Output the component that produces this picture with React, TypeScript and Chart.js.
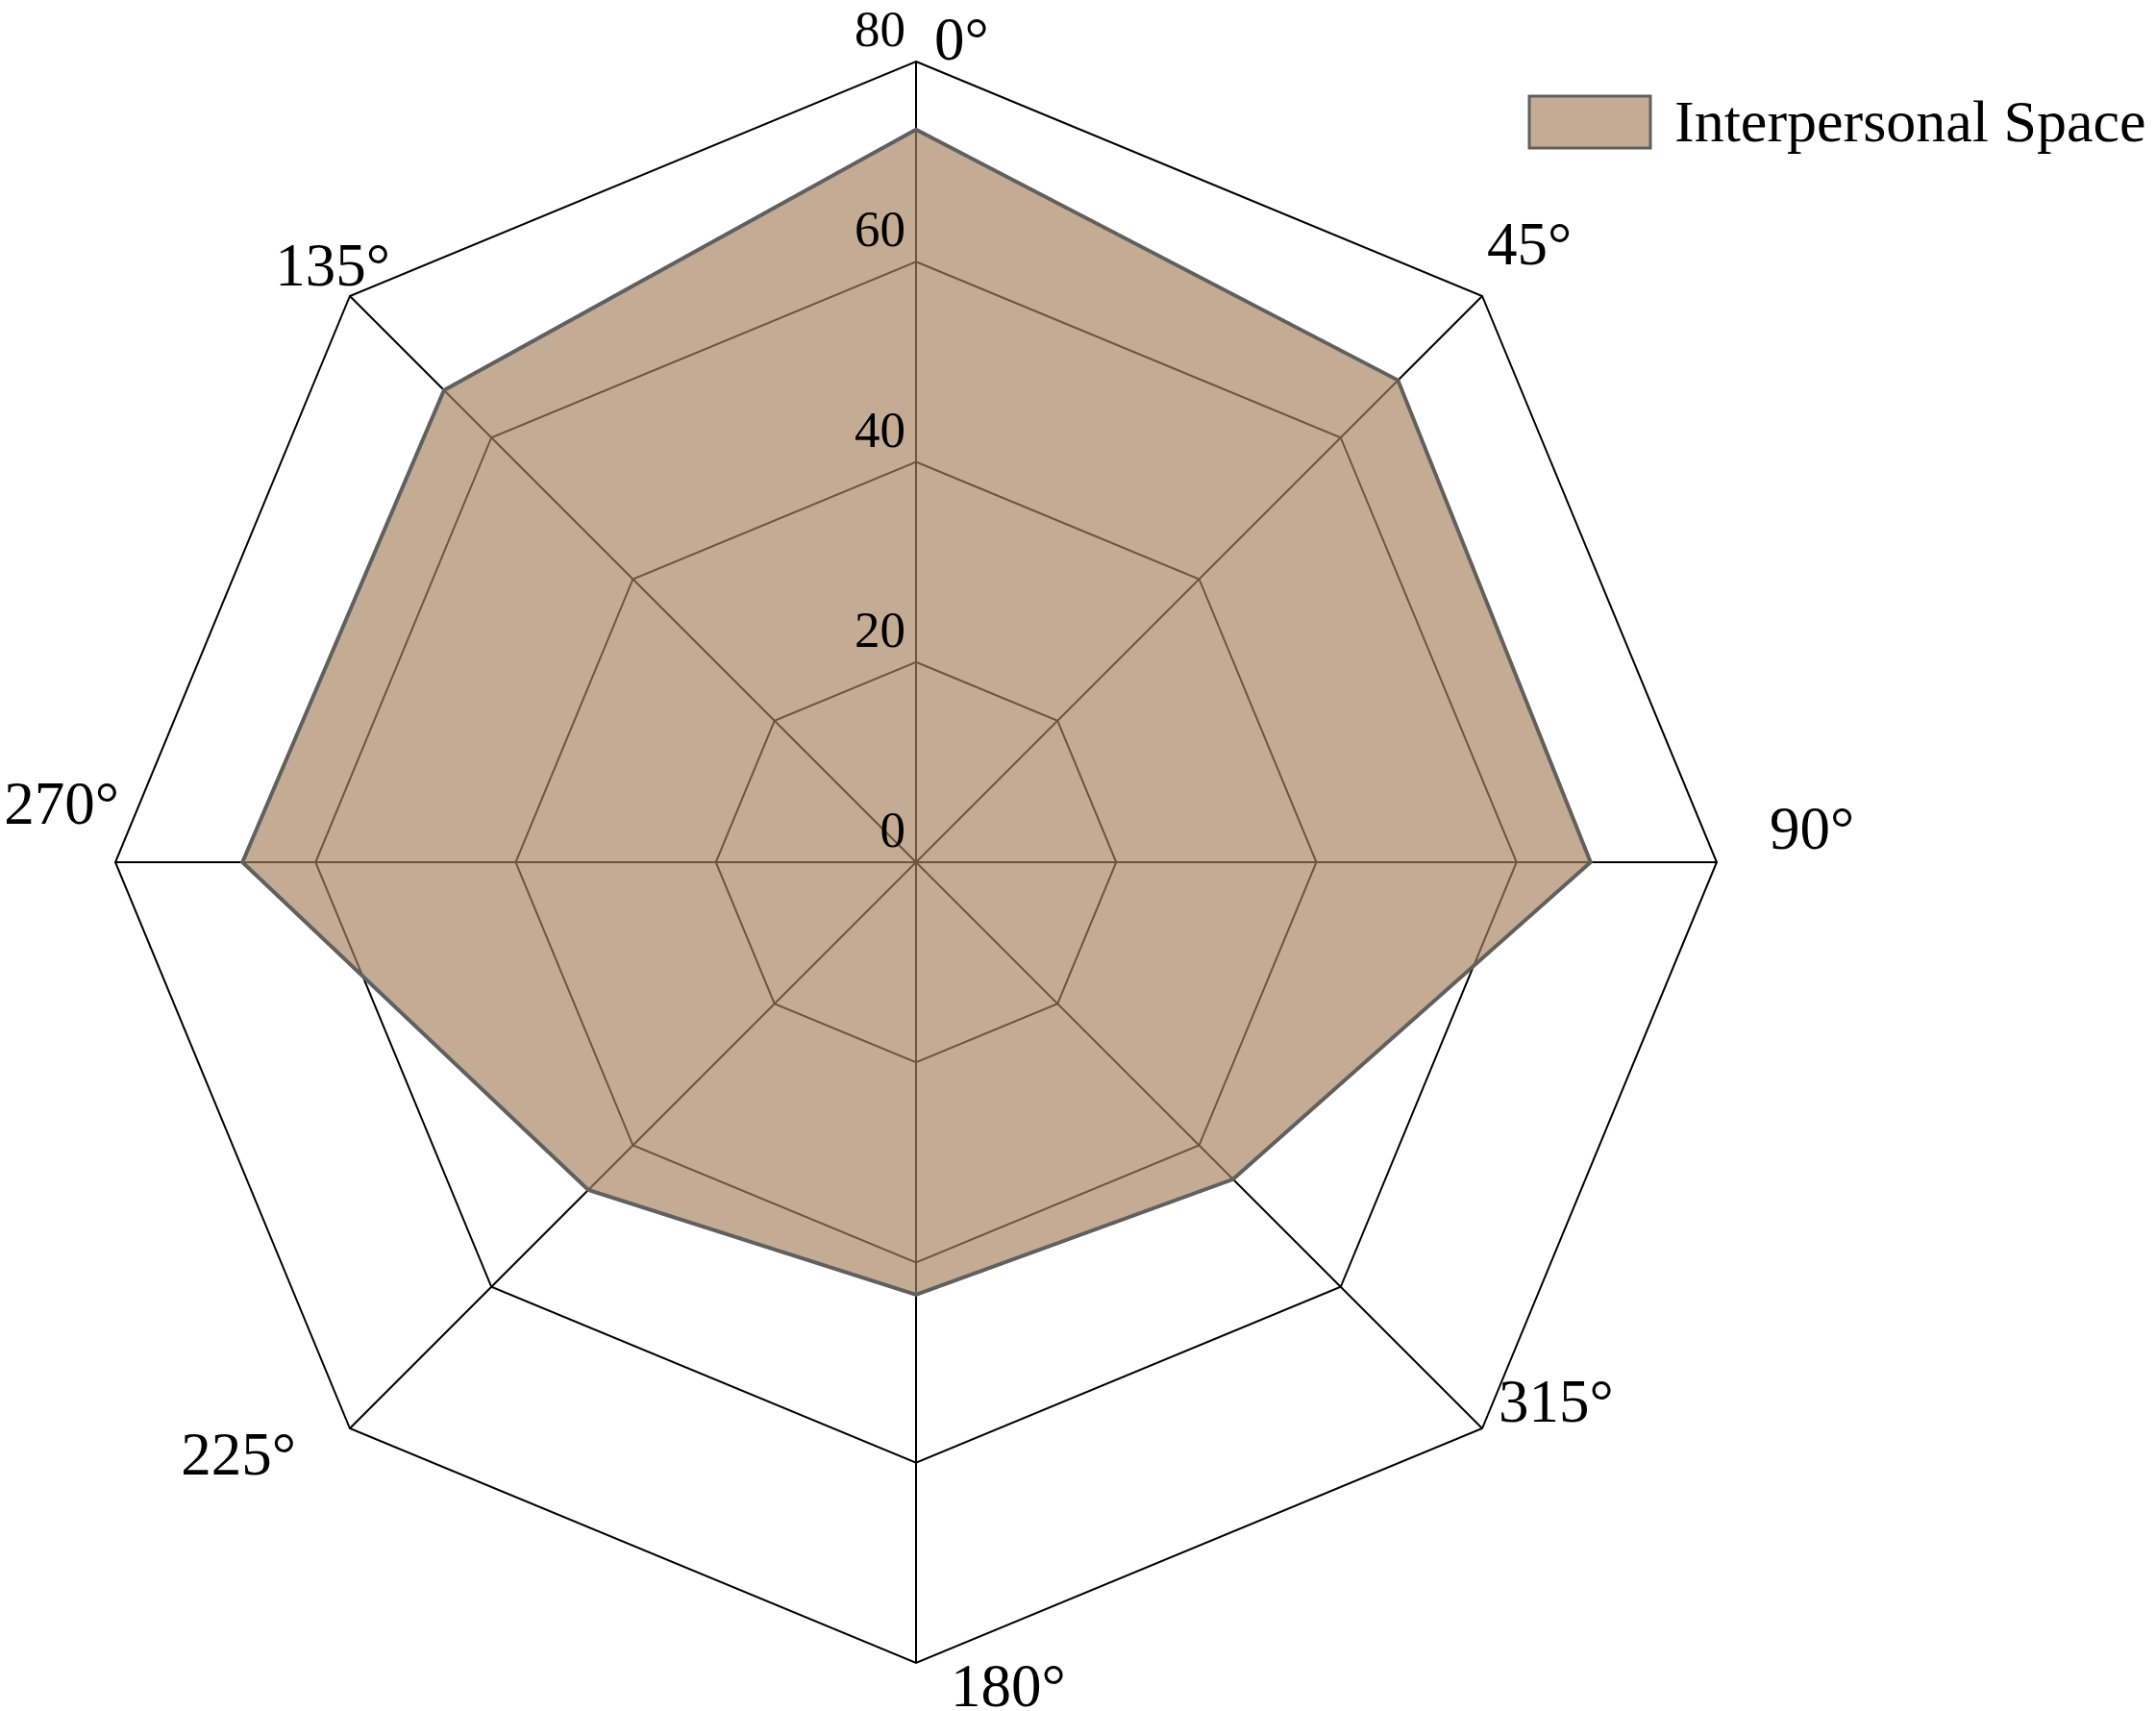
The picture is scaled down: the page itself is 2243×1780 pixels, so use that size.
import React, { useEffect, useRef } from "react";
import { Chart, registerables } from "chart.js";

Chart.register(...registerables);

const categories = ["0°", "45°", "90°", "315°", "180°", "225°", "270°", "135°"];
const seriesName = "Interpersonal Space";
const seriesValues = [73.2, 68.1, 67.4, 44.8, 43.2, 46.3, 67.3, 66.7];
const scaleMin = 0;
const scaleMax = 80;
const scaleStep = 20;

const FILL = "rgba(166,128,91,0.66)";
const BORDER = "#606060";
const FONT = '"Liberation Serif", "Times New Roman", serif';

// label placement style per direction octant (0 = top, clockwise)
const octantStyle: { align: CanvasTextAlign; dx: number; dy: number }[] = [
  { align: "left", dx: 19, dy: -2 },
  { align: "left", dx: 5, dy: -33 },
  { align: "left", dx: 55, dy: -14 },
  { align: "left", dx: 17, dy: -7 },
  { align: "left", dx: 36, dy: 45 },
  { align: "right", dx: -56, dy: 48 },
  { align: "right", dx: 4, dy: -40 },
  { align: "right", dx: 42, dy: -11 },
];

const overlayPlugin = {
  id: "overlay",
  afterDraw(chart: any) {
    const ctx = chart.ctx;
    const scale = chart.scales.r;
    const cx = scale.xCenter;
    const cy = scale.yCenter;
    ctx.save();
    ctx.fillStyle = "#000";

    // radial tick labels
    ctx.font = `53px ${FONT}`;
    ctx.textAlign = "right";
    ctx.textBaseline = "alphabetic";
    scale.ticks.forEach((t: any) => {
      const d = scale.getDistanceFromCenterForValue(t.value);
      ctx.fillText(String(t.value), cx - 11, cy - d - 16);
    });

    // point labels
    ctx.font = `63px ${FONT}`;
    const outer = scale.drawingArea;
    chart.data.labels.forEach((lab: string, i: number) => {
      const p = scale.getPointPosition(i, outer);
      const ang = scale.getIndexAngle(i);
      const oct = ((Math.round(ang / (Math.PI / 4)) % 8) + 8) % 8;
      const st = octantStyle[oct];
      ctx.textAlign = st.align;
      ctx.textBaseline = "alphabetic";
      ctx.fillText(lab, p.x + st.dx, p.y + st.dy);
    });

    // legend
    const ds = chart.data.datasets[0];
    const bx = 1591, by = 100, bw = 126, bh = 54;
    ctx.fillStyle = "#fff";
    ctx.fillRect(bx, by, bw, bh);
    ctx.fillStyle = ds.backgroundColor;
    ctx.fillRect(bx, by, bw, bh);
    ctx.strokeStyle = ds.borderColor;
    ctx.lineWidth = 3;
    ctx.strokeRect(bx, by, bw, bh);
    ctx.fillStyle = "#000";
    ctx.font = `62px ${FONT}`;
    ctx.textAlign = "left";
    ctx.textBaseline = "alphabetic";
    ctx.fillText(ds.label, 1742, 147);
    ctx.restore();
  },
};

export default function App() {
  const ref = useRef<HTMLCanvasElement | null>(null);
  useEffect(() => {
    document.body.style.margin = "0";
    const canvas = ref.current!;
    const chart = new Chart(canvas, {
      type: "radar",
      data: {
        labels: categories,
        datasets: [
          {
            label: seriesName,
            data: seriesValues,
            backgroundColor: FILL,
            borderColor: BORDER,
            borderWidth: 4,
            pointRadius: 0,
            pointHoverRadius: 0,
            fill: true,
            tension: 0,
          },
        ],
      },
      options: {
        responsive: false,
        animation: false,
        layout: { padding: { left: 120, right: 457, top: 64, bottom: 50 } },
        plugins: {
          legend: { display: false },
          tooltip: { enabled: false },
        },
        scales: {
          r: {
            min: scaleMin,
            max: scaleMax,
            startAngle: 0,
            ticks: { display: false, stepSize: scaleStep },
            pointLabels: { display: false },
            grid: { color: "#000", lineWidth: 2, circular: false },
            angleLines: { color: "#000", lineWidth: 2 },
          },
        },
      },
      plugins: [overlayPlugin],
    });
    return () => chart.destroy();
  }, []);
  return (
    <canvas
      ref={ref}
      width={2243}
      height={1780}
      style={{ display: "block", width: 2243, height: 1780 }}
    />
  );
}
